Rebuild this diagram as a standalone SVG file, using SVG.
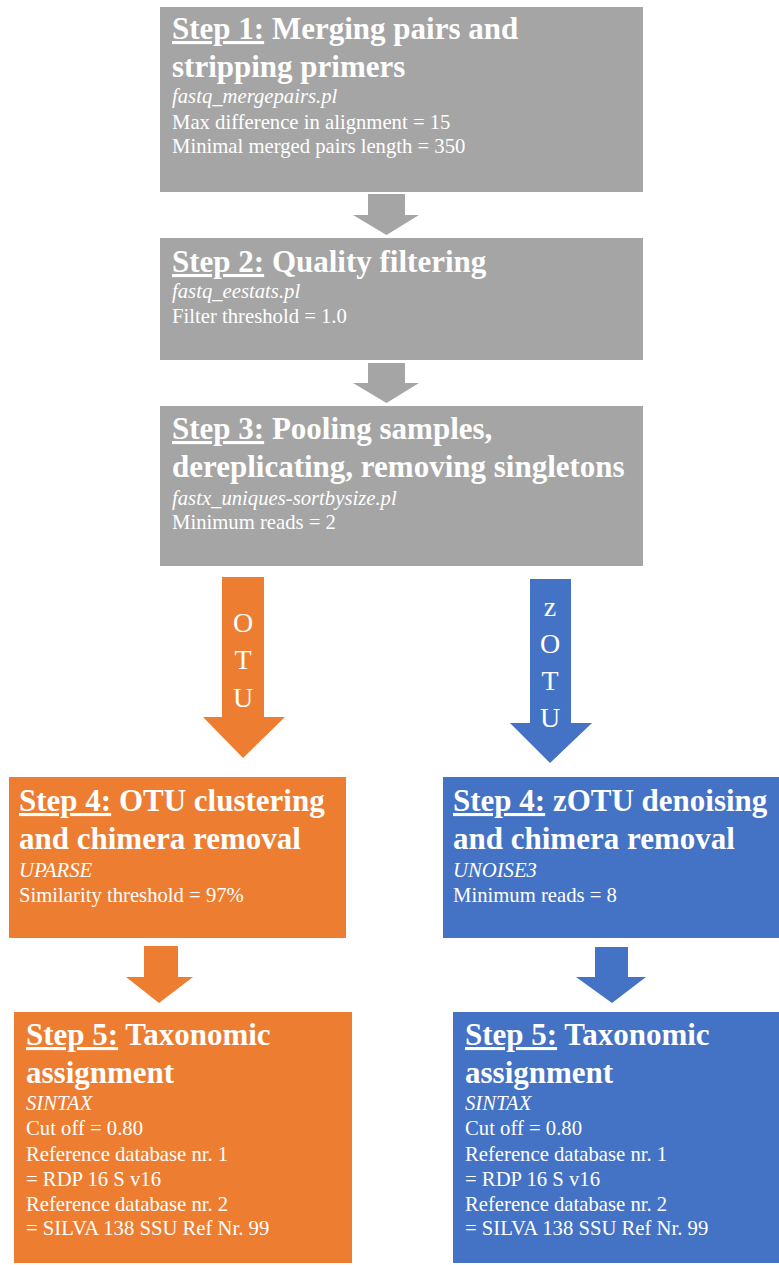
<svg xmlns="http://www.w3.org/2000/svg" width="779" height="1265" viewBox="0 0 779 1265">
<style>
text{font-family:"Liberation Serif","Times New Roman",serif;fill:#ffffff}
.t{font-size:31px;font-weight:bold}
.i{font-size:20.7px;font-style:italic}
.r{font-size:20.7px}
.u{text-decoration:underline}
.lab{font-size:28px;text-anchor:middle}
.gray{fill:#A5A5A5}
.org{fill:#ED7D31}
.blu{fill:#4472C4}
</style>
<rect width="779" height="1265" fill="#ffffff"/>
<g id="connectors">
  <polygon class="gray" points="368,194 405,194 405,215 419,215 386.5,235 353,215 368,215"/>
  <polygon class="gray" points="368,363 405,363 405,383 419,383 386.5,403 353,383 368,383"/>
  <polygon class="org" points="222,577 264,577 264,717 285,717 243,758 203,717 222,717"/>
  <polygon class="blu" points="530,579 571,579 571,723 592,723 550,763 510,723 530,723"/>
  <polygon class="org" points="144,946 178,946 178,977 193,977 159,1003 126,977 144,977"/>
  <polygon class="blu" points="595,947 628,947 628,977 646,977 612,1003 576,977 595,977"/>
  <g id="otu-label">
    <text class="lab" x="243" y="632">O</text>
    <text class="lab" x="243" y="669">T</text>
    <text class="lab" x="243" y="707">U</text>
  </g>
  <g id="zotu-label">
    <text class="lab" x="550" y="616">z</text>
    <text class="lab" x="550" y="653">O</text>
    <text class="lab" x="550" y="690">T</text>
    <text class="lab" x="550" y="727">U</text>
  </g>
</g>
<g id="step1">
  <rect class="gray" x="160" y="7" width="483" height="185"/>
  <text class="t" x="172" y="39"><tspan class="u">Step 1:</tspan> Merging pairs and</text>
  <text class="t" x="172" y="77">stripping primers</text>
  <text class="i" x="172" y="103">fastq_mergepairs.pl</text>
  <text class="r" x="172" y="129">Max difference in alignment = 15</text>
  <text class="r" x="172" y="153">Minimal merged pairs length = 350</text>
</g>
<g id="step2">
  <rect class="gray" x="160" y="238" width="483" height="122"/>
  <text class="t" x="172" y="272"><tspan class="u">Step 2:</tspan> Quality filtering</text>
  <text class="i" x="172" y="298">fastq_eestats.pl</text>
  <text class="r" x="172" y="323">Filter threshold = 1.0</text>
</g>
<g id="step3">
  <rect class="gray" x="160" y="406" width="483" height="160"/>
  <text class="t" x="172" y="439"><tspan class="u">Step 3:</tspan> Pooling samples,</text>
  <text class="t" x="172" y="477">dereplicating, removing singletons</text>
  <text class="i" x="172" y="505">fastx_uniques-sortbysize.pl</text>
  <text class="r" x="172" y="529">Minimum reads = 2</text>
</g>
<g id="step4-otu">
  <rect class="org" x="9" y="777" width="337" height="161"/>
  <text class="t" x="19" y="811"><tspan class="u">Step 4:</tspan> OTU clustering</text>
  <text class="t" x="19" y="849">and chimera removal</text>
  <text class="i" x="19" y="877">UPARSE</text>
  <text class="r" x="19" y="902">Similarity threshold = 97%</text>
</g>
<g id="step4-zotu">
  <rect class="blu" x="443" y="777" width="336" height="161"/>
  <text class="t" x="453" y="811"><tspan class="u">Step 4:</tspan> zOTU denoising</text>
  <text class="t" x="453" y="849">and chimera removal</text>
  <text class="i" x="453" y="877">UNOISE3</text>
  <text class="r" x="453" y="902">Minimum reads = 8</text>
</g>
<g id="step5-otu">
  <rect class="org" x="14" y="1012" width="338" height="251"/>
  <text class="t" x="26" y="1045"><tspan class="u">Step 5:</tspan> Taxonomic</text>
  <text class="t" x="26" y="1083">assignment</text>
  <text class="i" x="26" y="1110">SINTAX</text>
  <text class="r" x="26" y="1135">Cut off = 0.80</text>
  <text class="r" x="26" y="1161">Reference database nr. 1</text>
  <text class="r" x="26" y="1186">= RDP 16 S v16</text>
  <text class="r" x="26" y="1211">Reference database nr. 2</text>
  <text class="r" x="26" y="1235">= SILVA 138 SSU Ref Nr. 99</text>
</g>
<g id="step5-zotu">
  <rect class="blu" x="453" y="1012" width="326" height="251"/>
  <text class="t" x="465" y="1045"><tspan class="u">Step 5:</tspan> Taxonomic</text>
  <text class="t" x="465" y="1083">assignment</text>
  <text class="i" x="465" y="1110">SINTAX</text>
  <text class="r" x="465" y="1135">Cut off = 0.80</text>
  <text class="r" x="465" y="1161">Reference database nr. 1</text>
  <text class="r" x="465" y="1186">= RDP 16 S v16</text>
  <text class="r" x="465" y="1211">Reference database nr. 2</text>
  <text class="r" x="465" y="1235">= SILVA 138 SSU Ref Nr. 99</text>
</g>
</svg>
